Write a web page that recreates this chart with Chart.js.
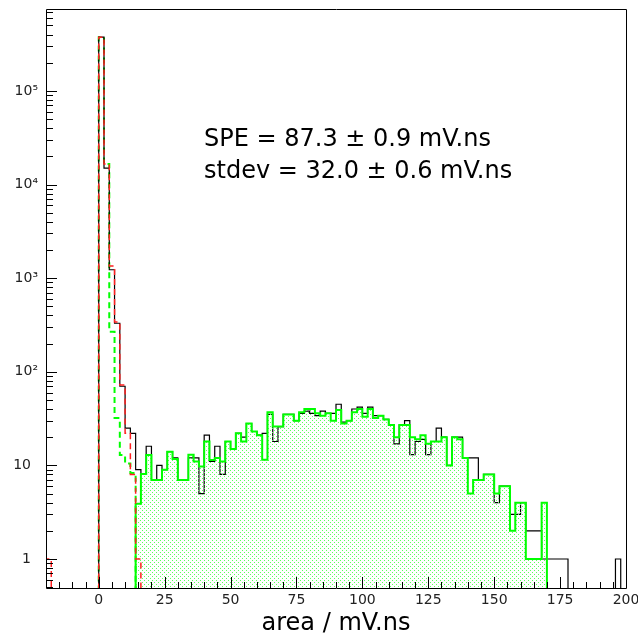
<!DOCTYPE html>
<html>
<head>
<meta charset="utf-8">
<title>SPE area spectrum</title>
<script src="https://cdn.jsdelivr.net/npm/chart.js"></script>
<style>
  html, body { margin: 0; padding: 0; background: #fff; }
  canvas { display: block; }
</style>
</head>
<body>
<canvas id="chart" width="638" height="636"></canvas>
<script>
// ===== data (bins of 2 mV.ns) =====
const BIN_W = 2;

// total spectrum (black), bins starting at 0
const DATA_START = 0;
const dataCounts = [
    375000, 15000, 1230, 330, 70, 25, 22, 9, 8, 16,
    7, 10, 9, 14, 12, 7, 7, 12, 12, 5,
    21, 11, 16, 8, 18, 15, 22, 20, 28, 23,
    21, 22, 35, 18, 26, 35, 35, 30, 36, 38,
    36, 34, 38, 36, 36, 45, 29, 30, 40, 42,
    36, 42, 34, 34, 31, 27, 17, 27, 30, 13,
    18, 19, 13, 18, 25, 20, 10, 20, 20, 12,
    12, 12, 7, 8, 8, 4, 6, 6, 3, 3,
    4, 2, 2, 2, 1, 1, 1, 1, 1, 0,
    0, 0, 0, 0, 0, 0, 0, 0, 1, 0
];

// pedestal (red dashed), bins starting at -20
const PED_START = -20;
const pedCounts = [1, 0, 0, 0, 0, 0, 0, 0, 0, 0, 375000, 16600, 1350, 340, 72, 22, 8, 1];

// pedestal model (green dashed), bins starting at 0
const MODEL_START = 0;
const modelCounts = [375000, 16600, 268, 32, 12.9, 10.5, 8.3];

// single photo-electron part (green, filled), bins starting at 14
const SPE_START = 14;
const speCounts = [
    3.9, 8.1, 12.9, 7, 7, 9, 14, 11.7, 7, 7,
    13, 11, 9.7, 18, 11.4, 12, 11, 18, 15, 22,
    18, 28, 23, 21, 11.5, 37, 26, 26, 35, 35,
    30, 37, 40, 40, 36, 34, 36, 30, 39, 28,
    30, 37, 40, 33, 40, 32, 34, 31, 27, 20,
    27, 27, 20, 19, 21, 17, 18, 18, 20, 10,
    20, 19, 12, 5, 7, 7, 8, 8, 5, 6,
    6, 2, 4, 4, 1, 1, 1, 4
];

const X_MIN = -20, X_MAX = 200;
const Y_MIN = 0.49, Y_MAX = 7.5e5;
const xTickValues = [0, 25, 50, 75, 100, 125, 150, 175, 200];
const yTickValues = [1, 10, 100, 1000, 10000, 100000];
const yTickLabels = ['1\u2002', '10\u2002', '10²', '10³', '10⁴', '10⁵'];
const fitLines = ['SPE = 87.3 ± 0.9 mV.ns', 'stdev = 32.0 ± 0.6 mV.ns'];

// ===================================

// empty bins go below the axis so they get clipped away
const EMPTY = Y_MIN / 10;

function histPoints(start, counts) {
    const pts = [{ x: start, y: EMPTY }];
    counts.forEach((c, i) => pts.push({ x: start + i * BIN_W, y: c > 0 ? c : EMPTY }));
    pts.push({ x: start + counts.length * BIN_W, y: EMPTY });
    return pts;
}

// ROOT-like dotted fill
function dotPattern(color) {
    const tile = document.createElement('canvas');
    tile.width = 4;
    tile.height = 4;
    const t = tile.getContext('2d');
    t.fillStyle = color;
    t.fillRect(0, 0, 1, 1);
    t.fillRect(2, 2, 1, 1);
    return t.createPattern(tile, 'repeat');
}

// frame, inner tick marks and the fit result text
const rootLook = {
    id: 'rootLook',
    afterDatasetsDraw(chart) {
        const { ctx, chartArea: a, scales: { x, y } } = chart;
        ctx.save();
        ctx.strokeStyle = '#000';
        ctx.lineWidth = 1;
        ctx.beginPath();
        ctx.rect(Math.round(a.left) + 0.5, Math.round(a.top) + 0.5,
                 Math.round(a.right - a.left), Math.round(a.bottom - a.top));
        for (let v = X_MIN; v <= X_MAX; v += 5) {
            const px = Math.round(x.getPixelForValue(v)) + 0.5;
            const len = v % 25 === 0 ? 11 : 6;
            ctx.moveTo(px, a.bottom);
            ctx.lineTo(px, a.bottom - len);
        }
        y.ticks.forEach(t => {
            const py = Math.round(y.getPixelForValue(t.value)) + 0.5;
            const len = yTickValues.includes(t.value) ? 11 : 7;
            ctx.moveTo(a.left, py);
            ctx.lineTo(a.left + len, py);
        });
        ctx.stroke();

        ctx.fillStyle = '#000';
        ctx.font = '24px "DejaVu Sans"';
        ctx.textBaseline = 'middle';
        ctx.textAlign = 'left';
        ctx.fillText(fitLines[0], 204, 140);
        ctx.fillText(fitLines[1], 204, 172);
        ctx.restore();
    }
};

// first dataset is drawn on top
const data = {
    datasets: [
        {
            label: 'pedestal',
            data: histPoints(PED_START, pedCounts),
            borderColor: '#ff2020',
            borderWidth: 1.5,
            borderDash: [6, 4],
            fill: false
        },
        {
            label: 'SPE',
            data: histPoints(SPE_START, speCounts),
            borderColor: '#00ff00',
            borderWidth: 2,
            backgroundColor: dotPattern('#5cff5c'),
            fill: 'start'
        },
        {
            label: 'data',
            data: histPoints(DATA_START, dataCounts),
            borderColor: '#000',
            borderWidth: 1.2,
            fill: false
        },
        {
            label: 'model',
            data: histPoints(MODEL_START, modelCounts),
            borderColor: '#00ff00',
            borderWidth: 2,
            borderDash: [6, 4],
            fill: false
        }
    ]
};

const config = {
    type: 'line',
    data: data,
    options: {
        responsive: false,
        animation: false,
        devicePixelRatio: 1,
        layout: { padding: { left: 0, top: 9, right: 12, bottom: 0 } },
        elements: {
            line: { stepped: 'before', tension: 0 },
            point: { radius: 0, hoverRadius: 0 }
        },
        plugins: {
            legend: { display: false },
            tooltip: { enabled: false }
        },
        scales: {
            x: {
                type: 'linear',
                min: X_MIN,
                max: X_MAX,
                grid: { display: false, drawTicks: false },
                border: { display: false },
                afterBuildTicks: scale => {
                    scale.ticks = xTickValues.map(v => ({ value: v }));
                },
                afterFit: scale => {
                    scale.height = 48;
                    scale.paddingLeft = 0;
                    scale.paddingRight = 0;
                },
                ticks: {
                    autoSkip: false,
                    maxRotation: 0,
                    padding: 4,
                    color: '#222',
                    font: { family: 'DejaVu Sans', size: 14 },
                    callback: value => String(value)
                },
                title: {
                    display: true,
                    text: 'area / mV.ns',
                    color: '#000',
                    font: { family: 'DejaVu Sans', size: 24, lineHeight: 1 },
                    padding: { top: 0, bottom: 0 }
                }
            },
            y: {
                type: 'logarithmic',
                min: Y_MIN,
                max: Y_MAX,
                grid: { display: false, drawTicks: false },
                border: { display: false },
                afterBuildTicks: scale => {
                    const ticks = [];
                    for (let e = -1; e <= 5; e++) {
                        for (let m = 1; m <= 9; m++) {
                            const v = m * Math.pow(10, e);
                            if (v >= Y_MIN && v <= Y_MAX) ticks.push({ value: v });
                        }
                    }
                    scale.ticks = ticks;
                },
                afterFit: scale => {
                    scale.width = 46;
                    scale.paddingTop = 0;
                    scale.paddingBottom = 0;
                },
                ticks: {
                    autoSkip: false,
                    padding: 8,
                    color: '#222',
                    font: { family: 'DejaVu Sans', size: 14 },
                    callback: value => {
                        const i = yTickValues.indexOf(value);
                        return i >= 0 ? yTickLabels[i] : '';
                    }
                }
            }
        }
    },
    plugins: [rootLook]
};

const chart = new Chart(document.querySelector('#chart'), config);
</script>
</body>
</html>
